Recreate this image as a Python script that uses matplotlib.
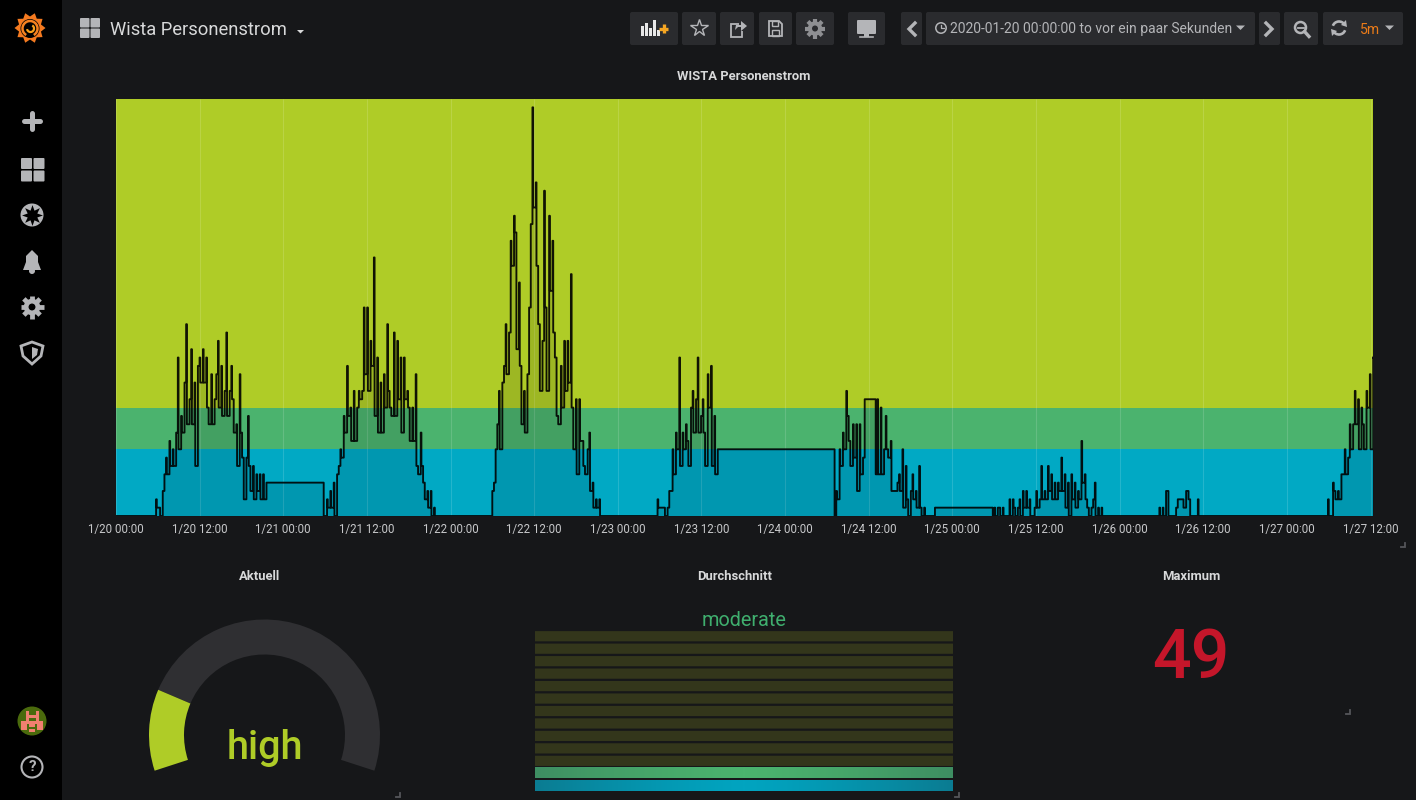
import numpy as np
import matplotlib
matplotlib.use('Agg')
import matplotlib.pyplot as plt
from matplotlib.colors import LinearSegmentedColormap
from matplotlib.patches import Arc, Circle, FancyBboxPatch, Polygon, Rectangle, Wedge

plt.rcParams['font.family'] = ['Roboto', 'DejaVu Sans']

# persons per reading; a run holds its last value until the next run starts
run_starts = [5.75, 29.8, 53.75, 77.7, 103.1, 109.0, 117.3, 117.5, 125.8, 149.7, 173.9]
run_values = [
    [2, 1, 1, 0, 3, 5, 7, 5, 9, 6, 8, 6, 10, 19, 8, 12, 10, 16, 23, 11, 14, 20, 11, 16, 6, 18, 19, 16, 20, 16, 19,
     13, 11, 17, 11, 14, 17, 21, 13, 18, 12, 15, 22, 12, 15, 18, 14, 10, 11, 6, 17, 10, 7, 2, 7, 12, 6, 3, 6, 2, 5,
     3, 5, 2, 5, 2, 4],
    [0, 0, 2, 1, 3, 1, 4, 0, 5, 6, 8, 7, 12, 10, 18, 12, 13, 9, 15, 9, 13, 15, 14, 15, 25, 17, 25, 15, 21, 18, 31,
     12, 19, 10, 16, 10, 17, 13, 23, 15, 13, 12, 22, 12, 21, 14, 19, 10, 19, 14, 15, 13, 9, 13, 9, 17, 6, 5, 10, 6,
     4, 2, 3, 1, 3, 0, 1, 0],
    [0, 3, 4, 8, 11, 15, 8, 16, 18, 23, 17, 22, 33, 30, 36, 34, 20, 28, 18, 11, 15, 10, 17, 25, 35, 49, 37, 40,
     30, 23, 15, 21, 39, 25, 15, 36, 27, 33, 22, 19, 12, 11, 18, 13, 21, 15, 21, 16, 29, 13, 8, 14, 5, 14, 9, 9, 6,
     5, 8, 10, 3, 4, 1, 2, 1, 2, 0],
    [2, 1, 1, 1, 1, 0, 1, 3, 3, 8, 5, 10, 8, 19, 6, 10, 8, 11, 9, 6, 13, 15, 10, 14, 19, 10, 12, 14, 10, 6, 17, 13,
     18, 6, 12, 5, 8],
    [0, 3, 2, 8, 6, 10, 8, 15, 12, 9, 6, 11, 7, 11, 3, 11, 5, 7, 14],
    [5, 14, 5, 13, 5, 8, 12, 8, 7, 9, 3, 3, 3, 4, 5, 3, 8, 1, 6, 2, 0, 3, 5, 2, 3, 1, 6, 1, 0, 1, 0],
    [0],
    [1],
    [0, 1, 0, 1, 1, 0, 1, 0, 0, 0, 2, 0, 2, 1, 0, 1, 2, 0, 3, 1, 3, 1, 2, 0, 0, 1, 3, 1, 2, 6, 2, 3, 2, 6, 3, 5, 2,
     4, 2, 4, 3, 7, 3, 5, 1, 4, 0, 5, 2, 4, 1, 3, 2, 9, 4, 5, 2, 1, 0, 1, 2, 4, 0, 1, 0, 1, 0],
    [1, 0, 1, 0, 3, 3, 0, 0, 0, 0, 1, 2, 2, 2, 2, 1, 3, 3, 2, 0, 0, 0, 0, 2, 0],
    [2, 0, 0, 4, 3, 2, 3, 2, 5, 5, 8, 5, 7, 11, 8, 11, 15, 11, 14, 8, 13, 11, 8, 15, 13, 17, 8, 19],
]
run_step = 0.24  # hours between readings
spike_width = 0.1  # a reading stays up only this long before dropping back
hours_end = 180.35
y_max = 50

tick_hours = list(range(0, 181, 12))
tick_labels = ['1/20 00:00', '1/20 12:00', '1/21 00:00', '1/21 12:00', '1/22 00:00', '1/22 12:00', '1/23 00:00',
               '1/23 12:00', '1/24 00:00', '1/24 12:00', '1/25 00:00', '1/25 12:00', '1/26 00:00', '1/26 12:00',
               '1/27 00:00', '1/27 12:00']

band_edges = [0, 8, 13, 50]
band_colors = ['#01A9C4', '#4BB36E', '#AFCC27']

current_value = 19
current_max = 100
current_label = 'high'
average_label = 'moderate'
maximum_value = 49
cell_states = ['off'] * 11 + ['green', 'blue']

W, H = 1416, 800
BG = '#161719'
BTN = '#2A2B2E'
ICON = '#B4B5B8'
TEXT = '#D8D9DA'


def px_axes(left, top, right, bottom, **kw):
    return fig.add_axes([left / W, 1 - bottom / H, (right - left) / W, (bottom - top) / H], **kw)


def gear(x, y, r, color, hole):
    for a in np.arange(8) * np.pi / 4:
        ui.plot([x, x + r * np.cos(a)], [y, y + r * np.sin(a)], color=color, lw=r * 0.3, solid_capstyle='butt')
    ui.add_patch(Circle((x, y), r * 0.72, color=color, lw=0, zorder=3))
    ui.add_patch(Circle((x, y), r * 0.3, color=hole, lw=0, zorder=4))


def button(left, right):
    ui.add_patch(FancyBboxPatch((left + 2, 14), right - left - 4, 29, boxstyle='round,pad=2', color=BTN, lw=0))


fig = plt.figure(figsize=(W / 100, H / 100), dpi=100, facecolor=BG)

ui = fig.add_axes([0, 0, 1, 1], zorder=0)
ui.set_facecolor(BG)
ui.axis('off')

# sidebar
ui.add_patch(Rectangle((0, 0), 62, H, color='#000000', lw=0))

# grafana logo
teeth = np.arange(20) * np.pi / 10
logo_r = np.where(np.arange(20) % 2 == 0, 15.5, 11.5)
logo = Polygon(np.c_[30 + logo_r * np.cos(teeth), 28 + logo_r * np.sin(teeth)], color='#F47A20', lw=0)
ui.add_patch(logo)
logo_img = ui.imshow(np.linspace(0, 1, 50).reshape(-1, 1), extent=(14, 46, 44, 12), aspect='auto',
                     cmap=LinearSegmentedColormap.from_list('logo', ['#F05A28', '#F58220', '#FBCA0A']))
logo_img.set_clip_path(logo)
ui.add_patch(Circle((30, 28.5), 9.5, color='#000000', lw=0, zorder=3))
ui.add_patch(Arc((30, 28.5), 15, 15, theta1=120, theta2=60, color='#F58220', lw=1.8, zorder=4))
ui.add_patch(Arc((30.5, 28.5), 7, 7, theta1=-60, theta2=170, color='#F9A01B', lw=1.6, zorder=4))

# sidebar icons
ui.plot([24, 40], [121, 121], color=ICON, lw=3.6, solid_capstyle='round')
ui.plot([32, 32], [113, 129], color=ICON, lw=3.6, solid_capstyle='round')
for px, py in [(21, 158), (33.5, 158), (21, 170.5), (33.5, 170.5)]:
    ui.add_patch(FancyBboxPatch((px + 1, py + 1), 9, 9, boxstyle='round,pad=1', color=ICON, lw=0))
ui.add_patch(Circle((32, 215), 11.5, color=ICON, lw=0))
ui.plot([32], [215], marker=(8, 1, 0), ms=15, color='#000000', mew=0)
ui.add_patch(Polygon([[23, 270], [41, 270], [38, 262], [38, 256], [32, 250], [26, 256], [26, 262]], color=ICON, lw=0))
ui.add_patch(Circle((32, 271), 3, color=ICON, lw=0))
gear(32, 307, 11.5, ICON, '#000000')
ui.add_patch(Polygon([[32, 342], [43, 346], [41, 356], [32, 364], [23, 356], [21, 346]], fill=False, ec=ICON, lw=2))
ui.add_patch(Polygon([[32, 347], [38, 349], [37, 355], [32, 359]], color=ICON, lw=0))
ui.add_patch(Circle((32, 721), 14.5, color='#4A6A0C', lw=0))
for px, py, pw, ph in [(26, 711, 2.5, 11), (36, 711, 2.5, 11), (26, 715, 12, 2.5), (21, 721, 22, 3),
                       (21, 724, 6, 6), (37, 724, 6, 6), (29, 724, 6, 2.5), (29, 729, 6, 2.5)]:
    ui.add_patch(Rectangle((px, py), pw, ph, color='#F08070', lw=0))
ui.add_patch(Circle((32, 767), 10.5, fill=False, ec=ICON, lw=1.5))
ui.text(32, 767, '?', color=ICON, fontsize=11, fontweight='bold', ha='center', va='center')

# header
for px, py in [(80, 18), (90.5, 18), (80, 28.5), (90.5, 28.5)]:
    ui.add_patch(FancyBboxPatch((px + 1, py + 1), 7.5, 7.5, boxstyle='round,pad=1', color=ICON, lw=0))
ui.text(109.5, 30, 'Wista Personenstrom', color=TEXT, fontsize=13.2, ha='left', va='center')
ui.add_patch(Polygon([[297, 30], [304, 30], [300.5, 33.5]], color=TEXT, lw=0))

for left, right in [(630, 678), (682, 716), (720, 754), (759, 792), (796, 834), (848, 885), (901, 922), (926, 1255),
                    (1259, 1280), (1284, 1318), (1323, 1403)]:
    button(left, right)

# toolbar icons
for px, ph in [(641, 10), (645, 13), (649, 8), (653, 16), (657, 6)]:
    ui.add_patch(Rectangle((px, 36 - ph), 3, ph, color='#E8E8E8', lw=0))
ui.plot([659, 668], [28.5, 28.5], color='#F5A623', lw=2.4, solid_capstyle='butt')
ui.plot([663.5, 663.5], [24, 33], color='#F5A623', lw=2.4, solid_capstyle='butt')
ui.plot([699], [28], marker='*', ms=13, mfc='none', mec=ICON, mew=1)
ui.add_patch(Polygon([[739, 24], [731, 24], [731, 37], [742, 37], [742, 31]], fill=False, ec=ICON, lw=1.3, closed=False))
ui.add_patch(Polygon([[735, 30], [736, 25], [741, 25], [741, 21], [747, 26], [741, 31], [741, 27], [738, 27]],
                     color=ICON, lw=0))
ui.add_patch(Polygon([[769, 21], [779, 21], [782, 24], [782, 36], [769, 36]], fill=False, ec=ICON, lw=1.3))
ui.add_patch(Rectangle((772, 21), 6, 5, fill=False, ec=ICON, lw=1))
ui.add_patch(Rectangle((772, 30), 7, 6, fill=False, ec=ICON, lw=1))
gear(815, 28.5, 10, '#8E8F92', BTN)
ui.add_patch(FancyBboxPatch((858, 21), 17, 12, boxstyle='round,pad=1', color=ICON, lw=0))
ui.add_patch(Rectangle((864, 34), 5, 3, color=ICON, lw=0))
ui.plot([860, 873], [37, 37], color=ICON, lw=1.2)
ui.plot([915, 909, 915], [23, 29, 35], color=ICON, lw=2.4, solid_joinstyle='miter')
ui.plot([1266, 1272, 1266], [23, 29, 35], color=ICON, lw=2.4, solid_joinstyle='miter')
ui.add_patch(Circle((941, 28), 5.2, fill=False, ec=ICON, lw=1.1))
ui.plot([941, 941, 944], [25, 28, 28], color=ICON, lw=0.9)
ui.text(950, 28.5, '2020-01-20 00:00:00 to vor ein paar Sekunden', color='#B4B5B8', fontsize=10, ha='left',
        va='center')
ui.add_patch(Polygon([[1236, 25.5], [1245, 25.5], [1240.5, 30]], color=ICON, lw=0))
ui.add_patch(Circle((1300.5, 27.5), 5.5, fill=False, ec=ICON, lw=1.8))
ui.plot([1297.5, 1303.5], [27.5, 27.5], color=ICON, lw=1.3)
ui.plot([1304.5, 1309], [31.5, 36.5], color=ICON, lw=2.4)
ui.add_patch(Arc((1339, 28), 13, 13, theta1=200, theta2=330, color=ICON, lw=1.9))
ui.add_patch(Arc((1339, 28), 13, 13, theta1=20, theta2=150, color=ICON, lw=1.9))
ui.add_patch(Polygon([[1346, 20], [1347, 27], [1341, 25]], color=ICON, lw=0))
ui.add_patch(Polygon([[1332, 36], [1331, 29], [1337, 31]], color=ICON, lw=0))
ui.text(1360, 29.5, '5m', color='#EB7B18', fontsize=10.1, ha='left', va='center')
ui.add_patch(Polygon([[1385, 25.5], [1394, 25.5], [1389.5, 30]], color=ICON, lw=0))

# panel titles
for px, py, title in [(744, 76, 'WISTA Personenstrom'), (260, 576, 'Aktuell'), (735, 576, 'Durchschnitt'),
                      (1191, 576, 'Maximum')]:
    ui.text(px, py, title, color=TEXT, fontsize=9.4, fontweight='bold', ha='center', va='center')

# resize handles
for px, py in [(1405, 547), (400, 797), (959, 797), (1350, 714)]:
    ui.plot([px - 4, px, px], [py, py, py - 4], color='#55565A', lw=1.3, solid_joinstyle='miter')

ui.set_xlim(0, W)
ui.set_ylim(H, 0)

# time series panel: each reading is a thin spike over the lower of it and the next reading
hours = [0.0]
persons = [0]
for start, values in zip(run_starts, run_values):
    for i, v in enumerate(values):
        hours.append(start + i * run_step)
        persons.append(v)
        if i < len(values) - 1:
            hours.append(start + i * run_step + spike_width)
            persons.append(min(v, values[i + 1]))
hours.append(hours_end)
persons.append(persons[-1])

ax = px_axes(116, 99, 1373, 516)
for i, c in enumerate(band_colors):
    ax.axhspan(band_edges[i], band_edges[i + 1], color=c, lw=0, zorder=0)
ax.vlines(tick_hours, 0, y_max, color='white', alpha=0.14, lw=0.8, zorder=1)
ax.fill_between(hours, persons, step='post', color='black', alpha=0.1, lw=0, zorder=2)
ax.step(hours, persons, where='post', color='black', lw=1.35, alpha=0.9, zorder=3)
ax.set_xlim(0, hours_end)
ax.set_ylim(0, y_max)
ax.set_xticks(tick_hours)
ax.set_xticklabels(tick_labels, color='#C7C8CA', fontsize=8.3)
ax.tick_params(axis='x', length=0, pad=5)
ax.set_yticks([])
for s in ax.spines.values():
    s.set_visible(False)

# gauge
g = px_axes(148.5, 619, 380.5, 800)
g.set_xlim(-116, 116)
g.set_ylim(-65, 116)
g.set_aspect('equal')
g.axis('off')
gauge_start, gauge_end = 198, -18
value_angle = gauge_start - (gauge_start - gauge_end) * current_value / current_max
g.add_patch(Wedge((0, 0), 115.5, gauge_end, value_angle, width=35, color='#2F2F32', lw=0))
g.add_patch(Wedge((0, 0), 115.5, value_angle, gauge_start, width=35, color=band_colors[2], lw=0))
g.text(0, -13, current_label, color=band_colors[2], fontsize=28.5, fontweight='medium', ha='center', va='center')

# bar gauge cells
b = px_axes(535, 630, 953, 792)
n_cells = len(cell_states)
cell_h = 0.82
for row, state in enumerate(cell_states):
    if state == 'off':
        b.barh(row, 1, height=cell_h, left=0, align='edge', color='#33361B', lw=0, snap=False)
    else:
        base = {'green': band_colors[1], 'blue': '#01A4C0'}[state]
        cm = LinearSegmentedColormap.from_list(state, ['#0B7C92' if state == 'blue' else '#3E8E62', base])
        glow = 1 - np.abs(np.linspace(-1, 1, 200))[None, :] ** 1.3
        b.imshow(glow, extent=(0, 1, row + cell_h, row), aspect='auto', cmap=cm, vmin=0, vmax=1)
b.set_xlim(0, 1)
b.set_ylim(n_cells - 0.09, -0.09)
b.axis('off')

ui.text(744, 621, average_label, color='#3FAE6E', fontsize=14.3, ha='center', va='center')
ui.text(1191, 658.5, str(maximum_value), color='#C4162A', fontsize=49, fontweight='medium', ha='center', va='center')

fig.savefig('out.png', dpi=100, facecolor=BG)
